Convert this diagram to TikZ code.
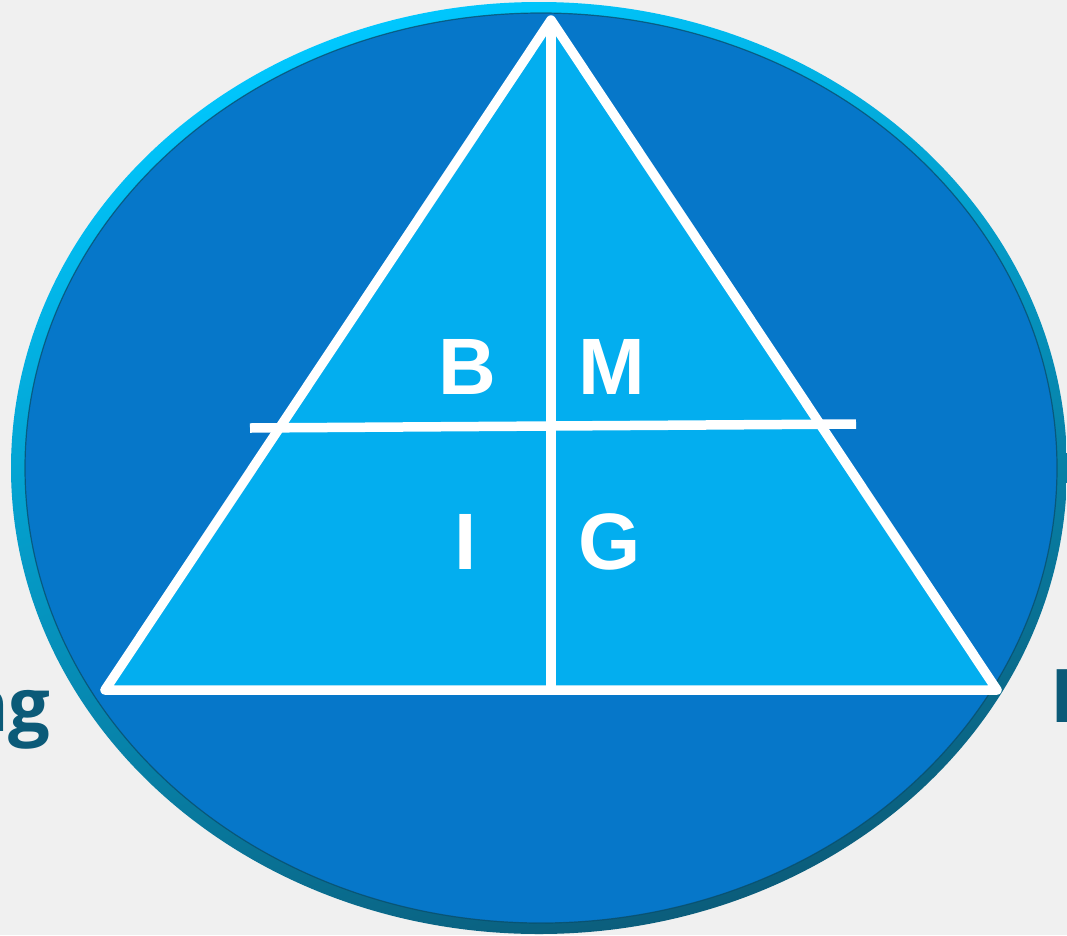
\documentclass[tikz,border=0pt]{standalone}
\usepackage{fontspec}
\setmainfont{Liberation Sans}
\newfontfamily\labelfont{Open Sans}
\definecolor{bgc}{HTML}{F0F0F0}
\definecolor{ringlight}{HTML}{00C8FF}
\definecolor{ringmid}{HTML}{0894C4}
\definecolor{ringdark}{HTML}{0B5C7A}
\definecolor{discfill}{HTML}{0677C9}
\definecolor{trifill}{HTML}{03AEEF}
\definecolor{labelc}{HTML}{0B5A78}
\tikzset{
  wline/.style={draw=white, line width=9.5pt, line cap=round, line join=round},
  letter/.style={text=white, font=\fontsize{80}{80}\selectfont\bfseries, inner sep=0pt},
  sidelabel/.style={text=labelc, font=\labelfont\fontsize{74}{74}\selectfont\bfseries, inner sep=0pt}
}
\begin{document}
\begin{tikzpicture}[x=1pt,y=-1pt]
\useasboundingbox (0,0) rectangle (1067,935);
\fill[bgc] (0,0) rectangle (1067,935);
% side labels (cut off by the frame)
\node[sidelabel, anchor=base east] (lbl) at (51,731) {ng};
\node[sidelabel, anchor=base west] (lbd) at (1050,722) {D};
% ring
\shade[top color=ringlight, middle color=ringmid, bottom color=ringdark, shading angle=18] (539,468) ellipse [x radius=528, y radius=466];
\fill[discfill] (541,468) ellipse [x radius=516, y radius=455];
\draw[ringdark!80!black, line width=1.2pt, opacity=0.7] (541,468) ellipse [x radius=516, y radius=455];
% triangle
\coordinate (apex) at (551,20);
\coordinate (bl) at (105,690);
\coordinate (br) at (997,690);
\coordinate (bm) at (551,690);
\coordinate (hl) at (250,428);
\coordinate (hr) at (856,424);
\fill[trifill] (apex) -- (br) -- (bl) -- cycle;
\draw[wline] (apex) -- (br) -- (bl) -- cycle;
\draw[wline, line cap=butt] (apex) -- (bm);
\draw[wline, line cap=butt] (hl) -- (hr);
% letters
\node[letter] (B) at (467,367) {B};
\node[letter] (M) at (612,367) {M};
\node[letter] (I) at (466,542) {I};
\node[letter] (G) at (610,542) {G};
\end{tikzpicture}
\end{document}
